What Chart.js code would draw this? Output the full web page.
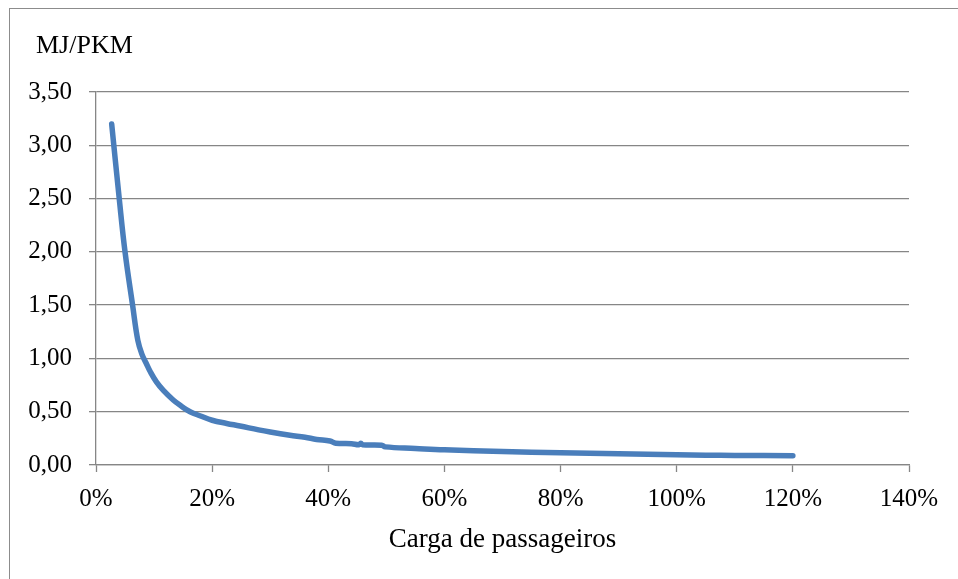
<!DOCTYPE html>
<html>
<head>
<meta charset="utf-8">
<script src="https://cdn.jsdelivr.net/npm/chart.js@4/dist/chart.umd.min.js"></script>
<style>
    html, body { margin: 0; padding: 0; background: #fff; overflow: hidden; }
    #frame { position: absolute; left: 9px; top: 8px; width: 2000px; height: 2000px;
             border-top: 1px solid #8c8c8c; border-left: 1px solid #8c8c8c; }
    #wrap { position: absolute; left: 0; top: 0; width: 958px; height: 579px; }
</style>
</head>
<body>
<div id="frame"></div>
<div id="wrap"><canvas id="energyChart"></canvas></div>
<script>
// carga de passageiros (%) e consumo (MJ/PKM)
const loadPct = [2.7, 4.0, 5.0, 6.3, 7.2, 7.9, 8.6, 9.4, 10.4, 11.6, 13.3, 14.5, 16.2,
    18, 20, 22.5, 24.8, 28, 30, 33.4, 36, 38, 40.3, 41.3, 44, 45.3, 45.6, 45.9, 49.2, 49.8,
    55, 60, 70, 80, 90, 100, 105, 110, 120];
const mjPerPkm = [3.20, 2.50, 2.00, 1.50, 1.17, 1.04, 0.96, 0.87, 0.78, 0.70, 0.61, 0.56, 0.50,
    0.46, 0.42, 0.39, 0.366, 0.33, 0.31, 0.28, 0.26, 0.24, 0.225, 0.205, 0.20, 0.19, 0.205, 0.19, 0.185, 0.17,
    0.155, 0.142, 0.127, 0.115, 0.105, 0.097, 0.092, 0.09, 0.086];
const xTicks = [0, 20, 40, 60, 80, 100, 120, 140];
const yTicks = [0, 0.5, 1, 1.5, 2, 2.5, 3, 3.5];

const yTitle = 'MJ/PKM';
const xTitle = 'Carga de passageiros';

const serif = '"Liberation Serif", "Times New Roman", serif';
const gray = '#868686';

const yTitlePlugin = {
    id: 'yTitle',
    afterDraw(chart) {
        const c = chart.ctx;
        c.save();
        c.font = '26px ' + serif;
        c.fillStyle = '#000';
        c.textBaseline = 'alphabetic';
        c.fillText(yTitle, 36, 53);
        c.restore();
    },
};

new Chart(document.getElementById('energyChart'), {
    type: 'line',
    data: {
        datasets: [{
            data: loadPct.map((x, i) => ({ x: x, y: mjPerPkm[i] })),
            borderColor: '#4a7ebb',
            borderWidth: 5.5,
            borderCapStyle: 'round',
            borderJoinStyle: 'round',
            tension: 0.4,
            pointRadius: 0,
            fill: false,
        }],
    },
    options: {
        responsive: true,
        maintainAspectRatio: false,
        animation: false,
        layout: { padding: { left: 0, top: 92, right: 49, bottom: 0 } },
        plugins: { legend: { display: false }, tooltip: { enabled: false } },
        scales: {
            x: {
                type: 'linear',
                min: 0, max: 140,
                afterBuildTicks: (s) => { s.ticks = xTicks.map((v) => ({ value: v })); },
                afterFit: (s) => { s.height = 114; },
                grid: { drawOnChartArea: false, drawTicks: true, tickLength: 7, tickColor: gray, tickWidth: 1.3 },
                border: { display: true, color: gray, width: 1.3 },
                ticks: {
                    padding: 12, color: '#000', maxRotation: 0,
                    font: { family: serif, size: 25 },
                    callback: (v) => v + '%',
                },
                title: {
                    display: true, text: xTitle, color: '#000',
                    font: { family: serif, size: 27 },
                    padding: { top: 0, bottom: 23 },
                },
            },
            y: {
                min: 0, max: 3.5,
                afterBuildTicks: (s) => { s.ticks = yTicks.map((v) => ({ value: v })); },
                afterFit: (s) => { s.width = 96; },
                grid: { color: gray, lineWidth: 1.3, drawTicks: true, tickLength: 7 },
                border: { display: true, color: gray, width: 1.3 },
                ticks: {
                    padding: 17, color: '#000',
                    font: { family: serif, size: 25 },
                    callback: (v) => v.toFixed(2).replace('.', ','),
                },
            },
        },
    },
    plugins: [yTitlePlugin],
});
</script>
</body>
</html>
